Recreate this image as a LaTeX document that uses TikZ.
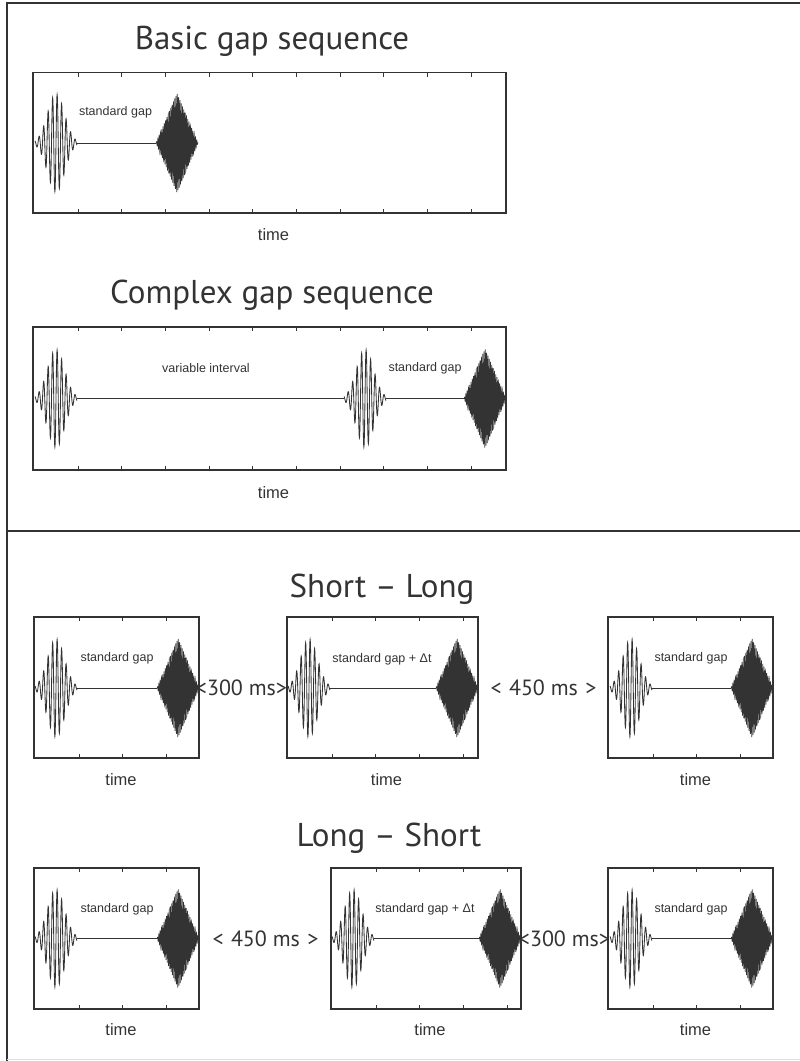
\documentclass[tikz,border=0pt]{standalone}
\usepackage{fontspec}
\setmainfont{PT Sans}
\newfontfamily\labelfont{Liberation Sans}
\definecolor{ink}{HTML}{333333}

\tikzset{
  boxline/.style={draw=ink, line width=1.4pt},
  tickline/.style={draw=ink, line width=0.9pt},
  frameline/.style={draw=ink, line width=1.4pt},
  wave/.style={draw=ink, line width=0.85pt},
  densewave/.style={draw=ink, line width=0.7pt},
  burstfill/.style={fill=ink},
  gapline/.style={draw=ink, line width=0.8pt},
  title/.style={font=\fontsize{33}{36}\selectfont, text=ink, anchor=base, inner sep=0pt},
  interval/.style={font=\fontsize{22}{24}\selectfont, text=ink, anchor=base, inner sep=0pt},
  smalllabel/.style={font=\labelfont\fontsize{12.5}{14}\selectfont, text=ink, inner sep=0pt},
  axislabel/.style={font=\labelfont\fontsize{16.5}{18}\selectfont, text=ink, anchor=base, inner sep=0pt},
}

% plot frame with tick marks: left, top, right, bottom, number of ticks
\newcommand\sigbox[5]{%
  \draw[boxline] (#1,#2) rectangle (#3,#4);
  \foreach \k in {1,...,#5}{
    \pgfmathsetmacro\tx{#1+1.3+43.7*\k}
    \draw[tickline] (\tx,#2) -- ++(0,4);
    \draw[tickline] (\tx,#4) -- ++(0,-4);
  }%
}
% low-frequency tone burst with Gaussian envelope, centred at (x,y)
\newcommand\lightburst[2]{%
  \draw[wave] plot[domain=-21:21, samples=301]
    ({#1+\x},{#2-49*exp(-\x*\x/144.5)*sin(360*\x/4.5)});
}
% high-frequency burst with triangular envelope, centred at (x,y)
\newcommand\darkburst[2]{%
  \fill[burstfill] (#1-18,#2) -- (#1,#2-40) -- (#1+18,#2) -- (#1,#2+40) -- cycle;
  \draw[densewave] plot[domain=-21:21, samples=501]
    ({#1+\x},{#2-50*(1-abs(\x)/21)*sin(360*\x/1.3)});
}

\begin{document}
\begin{tikzpicture}[x=1pt,y=-1pt]
\useasboundingbox (0,0) rectangle (800,1061);

% outer frame and divider
\draw[frameline] (800,3) -- (7,3) -- (7,1061);
\draw[frameline] (7,531) -- (800,531);
\draw[draw=black!12, line width=1pt] (7,1059.5) -- (800,1059.5);

% ---------- Basic gap sequence ----------
\node[title] (tbasic) at (272,49) {Basic gap sequence};
\sigbox{33}{72.5}{506}{213}{10}
\lightburst{56}{143}
\draw[gapline] (77,143) -- (156,143);
\darkburst{177}{143}
\node[smalllabel] (lbasic) at (115.5,112) {standard gap};
\node[axislabel] (xbasic) at (273.5,240) {time};

% ---------- Complex gap sequence ----------
\node[title] (tcomplex) at (272,303) {Complex gap sequence};
\sigbox{33}{327}{506}{470}{10}
\lightburst{56}{398.5}
\draw[gapline] (77,398.5) -- (344,398.5);
\lightburst{365}{398.5}
\draw[gapline] (386,398.5) -- (464,398.5);
\darkburst{485}{398.5}
\node[smalllabel] (lvar) at (206,368) {variable interval};
\node[smalllabel] (lcomplex) at (425,368) {standard gap};
\node[axislabel] (xcomplex) at (273.5,498) {time};

% ---------- Short - Long ----------
\node[title] (tshort) at (382,597) {Short – Long};
\sigbox{34}{617}{199}{758}{3}
\lightburst{56}{688}
\draw[gapline] (77,688) -- (157,688);
\darkburst{178}{688}
\node[smalllabel] (la1) at (117,658) {standard gap};
\node[axislabel] (xa1) at (121,785) {time};

\sigbox{287}{617}{478}{758}{4}
\lightburst{309}{688}
\draw[gapline] (330,688) -- (436,688);
\darkburst{457}{688}
\node[smalllabel] (la2) at (382,659) {standard gap + Δt};
\node[axislabel] (xa2) at (386.5,785) {time};

\sigbox{608}{617}{773}{758}{3}
\lightburst{631}{688}
\draw[gapline] (652,688) -- (731,688);
\darkburst{752}{688}
\node[smalllabel] (la3) at (691,658) {standard gap};
\node[axislabel] (xa3) at (695.5,785) {time};

\node[interval] (ia1) at (241.5,695) {<300 ms>};
\node[interval] (ia2) at (543.5,695) {<\,\,450 ms\,\,>};

% ---------- Long - Short ----------
\node[title] (tlong) at (389,846) {Long – Short};
\sigbox{34}{868}{199}{1009}{3}
\lightburst{56}{938.5}
\draw[gapline] (77,938.5) -- (157,938.5);
\darkburst{178}{938.5}
\node[smalllabel] (lb1) at (117,909) {standard gap};
\node[axislabel] (xb1) at (121,1035) {time};

\sigbox{331}{868}{521}{1009}{4}
\lightburst{353}{938.5}
\draw[gapline] (374,938.5) -- (479,938.5);
\darkburst{500}{938.5}
\node[smalllabel] (lb2) at (425,909) {standard gap + Δt};
\node[axislabel] (xb2) at (430,1035) {time};

\sigbox{608}{868}{773}{1009}{3}
\lightburst{631}{938.5}
\draw[gapline] (652,938.5) -- (731,938.5);
\darkburst{752}{938.5}
\node[smalllabel] (lb3) at (691,909) {standard gap};
\node[axislabel] (xb3) at (695.5,1035) {time};

\node[interval] (ib1) at (265.5,946) {<\,\,450 ms\,\,>};
\node[interval] (ib2) at (564.5,946) {<300 ms>};
\end{tikzpicture}
\end{document}
